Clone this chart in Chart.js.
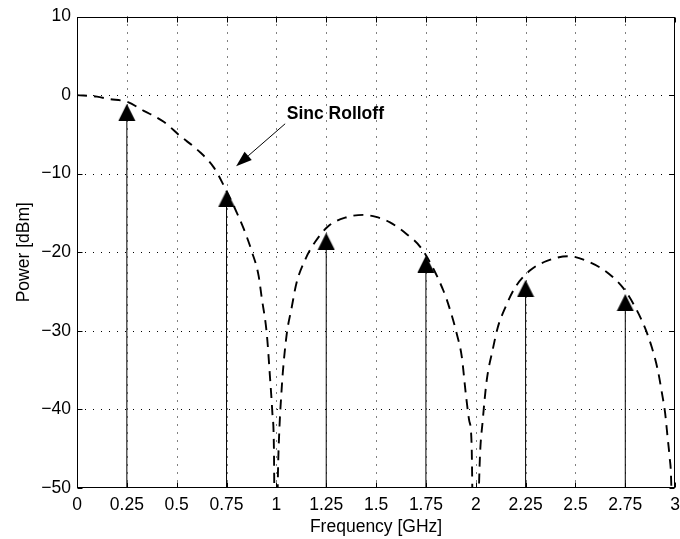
<!DOCTYPE html>
<html><head><meta charset="utf-8">
<script src="https://cdn.jsdelivr.net/npm/chart.js@4"></script>
<style>html,body{margin:0;padding:0;background:#fff;}</style>
</head><body>
<canvas id="c" width="680" height="539"></canvas>
<script>
// ---- data ----
const curveFreq = [0, 0.1, 0.16, 0.25, 0.335, 0.435, 0.517, 0.61, 0.686, 0.736, 0.786, 0.836, 0.878, 0.911, 0.926, 0.952, 0.968, 0.98, 0.988, 0.995, 1.008, 1.016, 1.025, 1.032, 1.052, 1.077, 1.1, 1.147, 1.194, 1.26, 1.345, 1.437, 1.5, 1.57, 1.654, 1.73, 1.838, 1.872, 1.905, 1.93, 1.95, 1.967, 1.979, 1.993, 2.021, 2.035, 2.055, 2.085, 2.11, 2.147, 2.197, 2.273, 2.357, 2.465, 2.574, 2.666, 2.741, 2.8, 2.85, 2.883, 2.913, 2.933, 2.95, 2.962, 2.972, 2.98, 2.995];
const curvePower = [0, -0.2, -0.5, -0.85, -2.0, -3.4, -5.2, -7.1, -9.2, -11.5, -14.1, -17.0, -20.0, -23.0, -25.7, -30.4, -35.9, -40.5, -45.6, -70, -48, -42, -38, -35.4, -30.4, -27.0, -24.0, -20.8, -18.7, -16.7, -15.6, -15.25, -15.5, -16.2, -17.7, -19.6, -24.9, -27.4, -30.4, -33.3, -38.0, -41.4, -44.3, -70, -46, -41.4, -36.3, -32.4, -29.6, -27.1, -24.5, -22.3, -21.1, -20.5, -21.3, -22.7, -24.6, -27.0, -29.7, -32.1, -35.0, -37.8, -40.5, -43.5, -46, -49, -70];
const stemFreq = [0.25, 0.75, 1.25, 1.75, 2.25, 2.75];
const stemPower = [-2.2, -13.2, -18.6, -21.5, -24.6, -26.4];
const xTicks = [0, 0.25, 0.5, 0.75, 1, 1.25, 1.5, 1.75, 2, 2.25, 2.5, 2.75, 3];
const yTicks = [-50, -40, -30, -20, -10, 0, 10];
const xTitle = 'Frequency [GHz]';
const yTitle = 'Power [dBm]';
const noteText = 'Sinc Rolloff';
const noteTextPos = [1.052, -2.4];
const noteArrowFrom = [1.044, -3.65];
const noteArrowTo = [0.798, -9.07];
const yBase = -50;

// ---- build datasets ----
const curvePts = curveFreq.map((f, i) => ({x: f, y: curvePower[i]}));
const stemPts = [];
stemFreq.forEach((f, i) => { stemPts.push({x: f, y: yBase}, {x: f, y: stemPower[i]}, {x: f, y: null}); });
const markerPts = stemFreq.map((f, i) => ({x: f, y: stemPower[i]}));

// triangle marker image
const tri = document.createElement('canvas');
tri.width = 18; tri.height = 17;
(function(){ const g = tri.getContext('2d'); g.fillStyle = '#000'; g.beginPath(); g.moveTo(9, 0); g.lineTo(17.5, 17); g.lineTo(0.5, 17); g.closePath(); g.fill(); })();

const FONT = "'Liberation Sans', Arial, Helvetica, sans-serif";
const FS = 17.5;
const fmt = v => v < 0 ? '\u2212' + String(Math.abs(v)) : String(v);

const decor = {
  id: 'decor',
  beforeDatasetsDraw(chart) {
    const {ctx, chartArea: a, scales: {x, y}} = chart;
    ctx.save();
    ctx.strokeStyle = '#000'; ctx.lineWidth = 1; ctx.setLineDash([1, 7]);
    xTicks.forEach(v => { if (v <= x.min || v >= x.max) return; const px = Math.round(x.getPixelForValue(v)) + 0.5; ctx.beginPath(); ctx.moveTo(px, a.top); ctx.lineTo(px, a.bottom); ctx.stroke(); });
    yTicks.forEach(v => { if (v <= y.min || v >= y.max) return; const py = Math.round(y.getPixelForValue(v)) + 0.5; ctx.beginPath(); ctx.moveTo(a.left, py); ctx.lineTo(a.right, py); ctx.stroke(); });
    ctx.restore();
  },
  afterDatasetsDraw(chart) {
    const {ctx, chartArea: a, scales: {x, y}} = chart;
    ctx.save();
    ctx.strokeStyle = '#000'; ctx.lineWidth = 1; ctx.setLineDash([]);
    const L = Math.round(a.left) + 0.5, R = Math.round(a.right) - 0.5, T = Math.round(a.top) + 0.5, B = Math.round(a.bottom) - 0.5;
    ctx.strokeRect(L, T, R - L, B - T);
    const tl = 5;
    ctx.beginPath();
    xTicks.forEach(v => { const px = Math.round(x.getPixelForValue(v)) + 0.5; ctx.moveTo(px, B); ctx.lineTo(px, B - tl); ctx.moveTo(px, T); ctx.lineTo(px, T + tl); });
    yTicks.forEach(v => { const py = Math.round(y.getPixelForValue(v)) + 0.5; ctx.moveTo(L, py); ctx.lineTo(L + tl, py); ctx.moveTo(R, py); ctx.lineTo(R - tl, py); });
    ctx.stroke();
    // annotation
    const fx = x.getPixelForValue(noteArrowFrom[0]), fy = y.getPixelForValue(noteArrowFrom[1]);
    const tx = x.getPixelForValue(noteArrowTo[0]), ty = y.getPixelForValue(noteArrowTo[1]);
    const ang = Math.atan2(ty - fy, tx - fx);
    const hl = 16, hw = 5.5;
    const bx = tx - hl * Math.cos(ang), by = ty - hl * Math.sin(ang);
    ctx.beginPath(); ctx.moveTo(fx, fy); ctx.lineTo(bx, by); ctx.stroke();
    ctx.fillStyle = '#000';
    ctx.beginPath(); ctx.moveTo(tx, ty);
    ctx.lineTo(bx + hw * Math.sin(ang), by - hw * Math.cos(ang));
    ctx.lineTo(bx - hw * Math.sin(ang), by + hw * Math.cos(ang));
    ctx.closePath(); ctx.fill();
    ctx.font = 'bold ' + FS + 'px ' + FONT; ctx.textAlign = 'left'; ctx.textBaseline = 'middle';
    ctx.fillText(noteText, x.getPixelForValue(noteTextPos[0]), y.getPixelForValue(noteTextPos[1]));
    ctx.restore();
  }
};

new Chart(document.getElementById('c'), {
  type: 'line',
  data: {
    datasets: [
      { data: curvePts, borderColor: '#000', borderWidth: 1.9, borderDash: [10, 7], pointRadius: 0, tension: 0.35, cubicInterpolationMode: 'monotone', spanGaps: false },
      { data: stemPts, borderColor: '#000', borderWidth: 1, pointRadius: 0, spanGaps: false },
      { data: markerPts, showLine: false, pointStyle: tri, pointRadius: 9, pointHoverRadius: 9 }
    ]
  },
  options: {
    responsive: false, animation: false, devicePixelRatio: 1,
    layout: { autoPadding: false, padding: { top: 16, right: 0, left: 0, bottom: 0 } },
    plugins: { legend: { display: false }, tooltip: { enabled: false } },
    scales: {
      x: {
        type: 'linear', min: 0, max: 3,
        afterBuildTicks: s => { s.ticks = xTicks.map(v => ({value: v})); },
        afterFit: s => { s.height = 51; },
        grid: { display: false, drawTicks: false },
        border: { display: false },
        ticks: { color: '#000', font: { family: FONT, size: FS, lineHeight: 1.94 }, padding: 0, maxRotation: 0, autoSkip: false, callback: v => fmt(v) },
        title: { display: true, text: xTitle, color: '#000', font: { family: FONT, size: FS }, padding: { top: 0, bottom: 1 } }
      },
      y: {
        type: 'linear', min: -50, max: 10,
        afterBuildTicks: s => { s.ticks = yTicks.map(v => ({value: v})); },
        afterFit: s => { s.width = 77; },
        grid: { display: false, drawTicks: false },
        border: { display: false },
        ticks: { color: '#000', font: { family: FONT, size: FS }, padding: 6, autoSkip: false, callback: v => fmt(v) },
        title: { display: true, text: yTitle, color: '#000', font: { family: FONT, size: FS }, padding: { top: 14, bottom: 0 } }
      }
    }
  },
  plugins: [decor]
});
</script>
</body></html>
